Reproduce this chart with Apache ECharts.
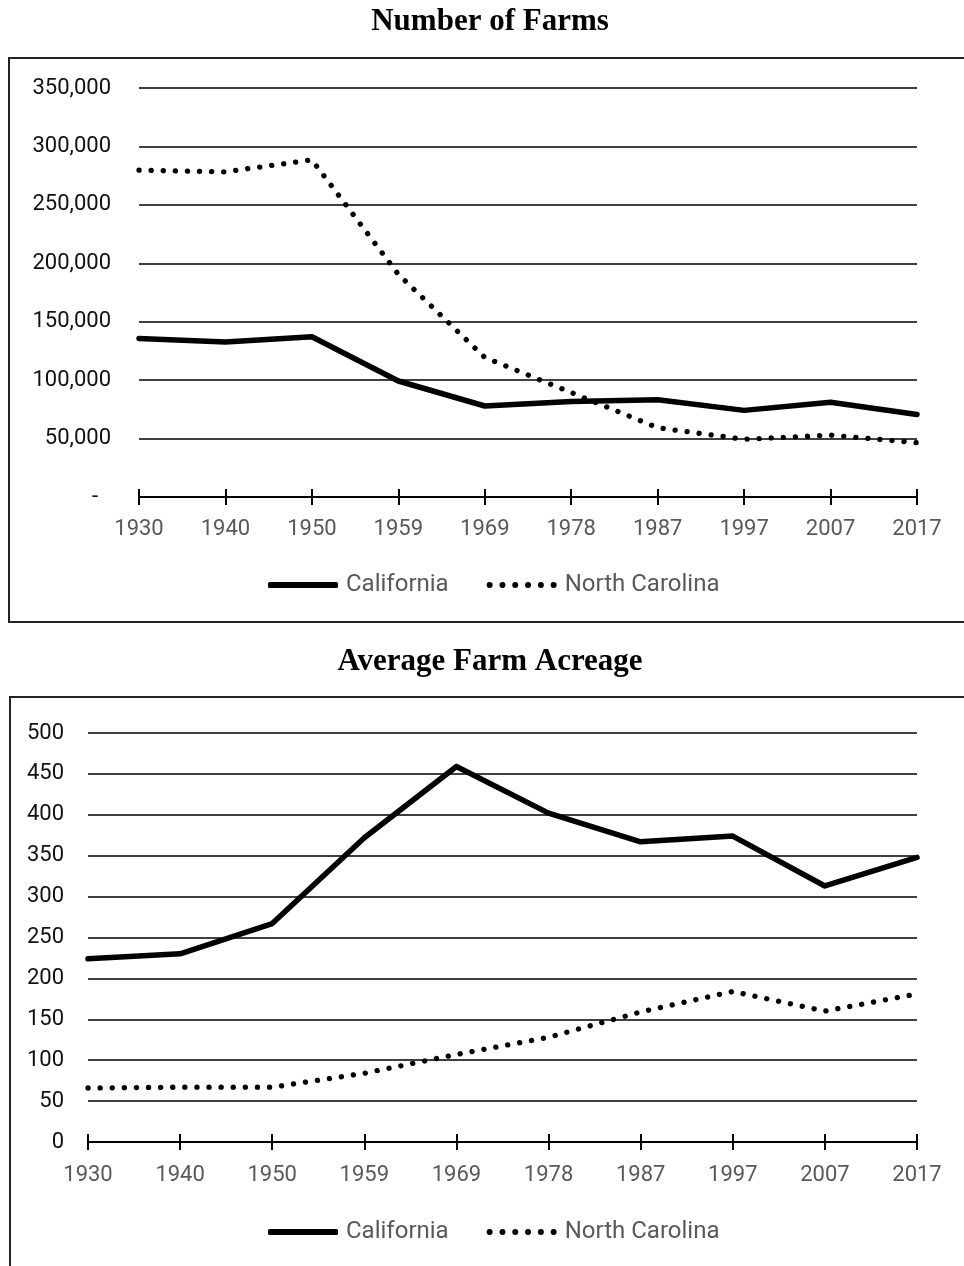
<!DOCTYPE html>
<html>
<head>
<meta charset="utf-8">
<script src="https://cdn.jsdelivr.net/npm/echarts@6/dist/echarts.min.js"></script>
<style>
html,body{margin:0;padding:0;background:#fff;}
#chart{width:964px;height:1266px;}
</style>
</head>
<body>
<div id="chart"></div>
<script>
// ---- data ----
const years = ['1930','1940','1950','1959','1969','1978','1987','1997','2007','2017'];
const seriesNames = ['California','North Carolina'];
const chartTitles = ['Number of Farms','Average Farm Acreage'];

const farmsCalifornia    = [135676, 132658, 137168, 99274, 77875, 81706, 83217, 74126, 81033, 70521];
const farmsNorthCarolina = [279708, 278276, 288508, 190567, 119386, 89367, 59284, 49406, 52913, 46418];

const acresCalifornia    = [224, 230, 267, 372, 459, 402, 367, 374, 313, 348];
const acresNorthCarolina = [66, 67, 67, 84, 107, 128, 159, 184, 160, 181];

const farmsAxis = { min: 0, max: 350000, interval: 50000 };
const acresAxis = { min: 0, max: 500, interval: 50 };

// ---- styles ----
const sansFont = 'Roboto';

function fmtFarms(v) {
  if (v === 0) return '{z|-}';
  return v.toLocaleString('en-US');
}

// legend icon: row of 6 dots (r = 3) spanning a 70 x 6 box
function dotsPath() {
  let p = 'path://';
  const r = 3, n = 6, w = 70;
  const step = (w - 2 * r) / (n - 1);
  for (let i = 0; i < n; i++) {
    const cx = r + i * step;
    p += 'M' + (cx - r) + ',' + r + 'a' + r + ',' + r + ' 0 1,0 ' + (2 * r) + ',0' +
         'a' + r + ',' + r + ' 0 1,0 ' + (-2 * r) + ',0Z';
  }
  return p;
}

function xMain(gridIndex, margin) {
  return {
    type: 'category', gridIndex: gridIndex, data: years, boundaryGap: false, position: 'bottom',
    axisLine: { show: true, lineStyle: { color: '#000', width: 2 } },
    axisTick: { show: true, length: 8, lineStyle: { color: '#000', width: 2 } },
    axisLabel: { color: '#595959', fontSize: 22, fontFamily: sansFont, margin: margin },
    splitLine: { show: false }
  };
}
function xTickOverlay(gridIndex) {
  return {
    type: 'category', gridIndex: gridIndex, data: years, boundaryGap: false, position: 'bottom',
    axisLine: { show: false },
    axisTick: { show: true, inside: true, length: 8, lineStyle: { color: '#000', width: 2 } },
    axisLabel: { show: false },
    splitLine: { show: false }
  };
}
function yAxisCfg(gridIndex, range, formatter, margin) {
  return {
    type: 'value', gridIndex: gridIndex,
    min: range.min, max: range.max, interval: range.interval,
    axisLine: { show: false }, axisTick: { show: false },
    splitLine: { show: true, lineStyle: { color: '#000', width: 1.6 } },
    axisLabel: {
      color: '#111', fontSize: 22, fontFamily: sansFont, margin: margin,
      formatter: formatter,
      rich: { z: { fontSize: 22, fontFamily: sansFont, color: '#111', padding: [0, 13, 0, 0] } }
    }
  };
}
function solidSeries(name, xi, yi, data) {
  return {
    name: name, type: 'line', xAxisIndex: xi, yAxisIndex: yi, data: data,
    symbol: 'none', showSymbol: false, z: 3,
    lineStyle: { color: '#000', width: 5.5, cap: 'round', join: 'round' },
    itemStyle: { color: '#000' }
  };
}
function dottedSeries(name, xi, yi, data) {
  return {
    name: name, type: 'line', xAxisIndex: xi, yAxisIndex: yi, data: data,
    symbol: 'none', showSymbol: false, z: 4,
    lineStyle: { color: '#000', width: 5.3, type: [0.1, 12], cap: 'round', join: 'round' },
    itemStyle: { color: '#000' }
  };
}
function legendCfg(top) {
  return {
    top: top, left: 268, padding: 0, itemWidth: 70, itemHeight: 6, itemGap: 38,
    selectedMode: false,
    data: [
      { name: seriesNames[0], icon: 'roundRect', itemStyle: { color: '#000', borderWidth: 0 } },
      { name: seriesNames[1], icon: dotsPath(), itemStyle: { color: '#000', borderWidth: 0 } }
    ],
    textStyle: { color: '#595959', fontSize: 24, fontFamily: sansFont, padding: [0, 0, 0, 3] }
  };
}

const option = {
  animation: false,
  backgroundColor: '#fff',
  graphic: [
    { type: 'rect', shape: { x: 9, y: 58, width: 1000, height: 564 }, style: { fill: 'none', stroke: '#222', lineWidth: 2 }, z: -1 },
    { type: 'rect', shape: { x: 10, y: 697, width: 1000, height: 700 }, style: { fill: 'none', stroke: '#222', lineWidth: 2 }, z: -1 },
    { type: 'text', style: { text: chartTitles[0], x: 490, y: 22, textAlign: 'center', textVerticalAlign: 'middle', font: 'bold 31px "Liberation Serif"', fill: '#000' } },
    { type: 'text', style: { text: chartTitles[1], x: 490, y: 662, textAlign: 'center', textVerticalAlign: 'middle', font: 'bold 31px "Liberation Serif"', fill: '#000' } }
  ],
  legend: [legendCfg(573), legendCfg(1220)],
  grid: [
    { left: 139, right: 47, top: 88, height: 409, containLabel: false },
    { left: 88, right: 47, top: 733, height: 409, containLabel: false }
  ],
  xAxis: [xMain(0, 21), xTickOverlay(0), xMain(1, 22), xTickOverlay(1)],
  yAxis: [
    yAxisCfg(0, farmsAxis, fmtFarms, 28),
    yAxisCfg(1, acresAxis, function (v) { return String(v); }, 24)
  ],
  series: [
    solidSeries(seriesNames[0], 0, 0, farmsCalifornia),
    dottedSeries(seriesNames[1], 0, 0, farmsNorthCarolina),
    solidSeries(seriesNames[0], 2, 1, acresCalifornia),
    dottedSeries(seriesNames[1], 2, 1, acresNorthCarolina)
  ]
};

const chart = echarts.init(document.getElementById('chart'), null, { renderer: 'canvas' });
chart.setOption(option);
</script>
</body>
</html>
